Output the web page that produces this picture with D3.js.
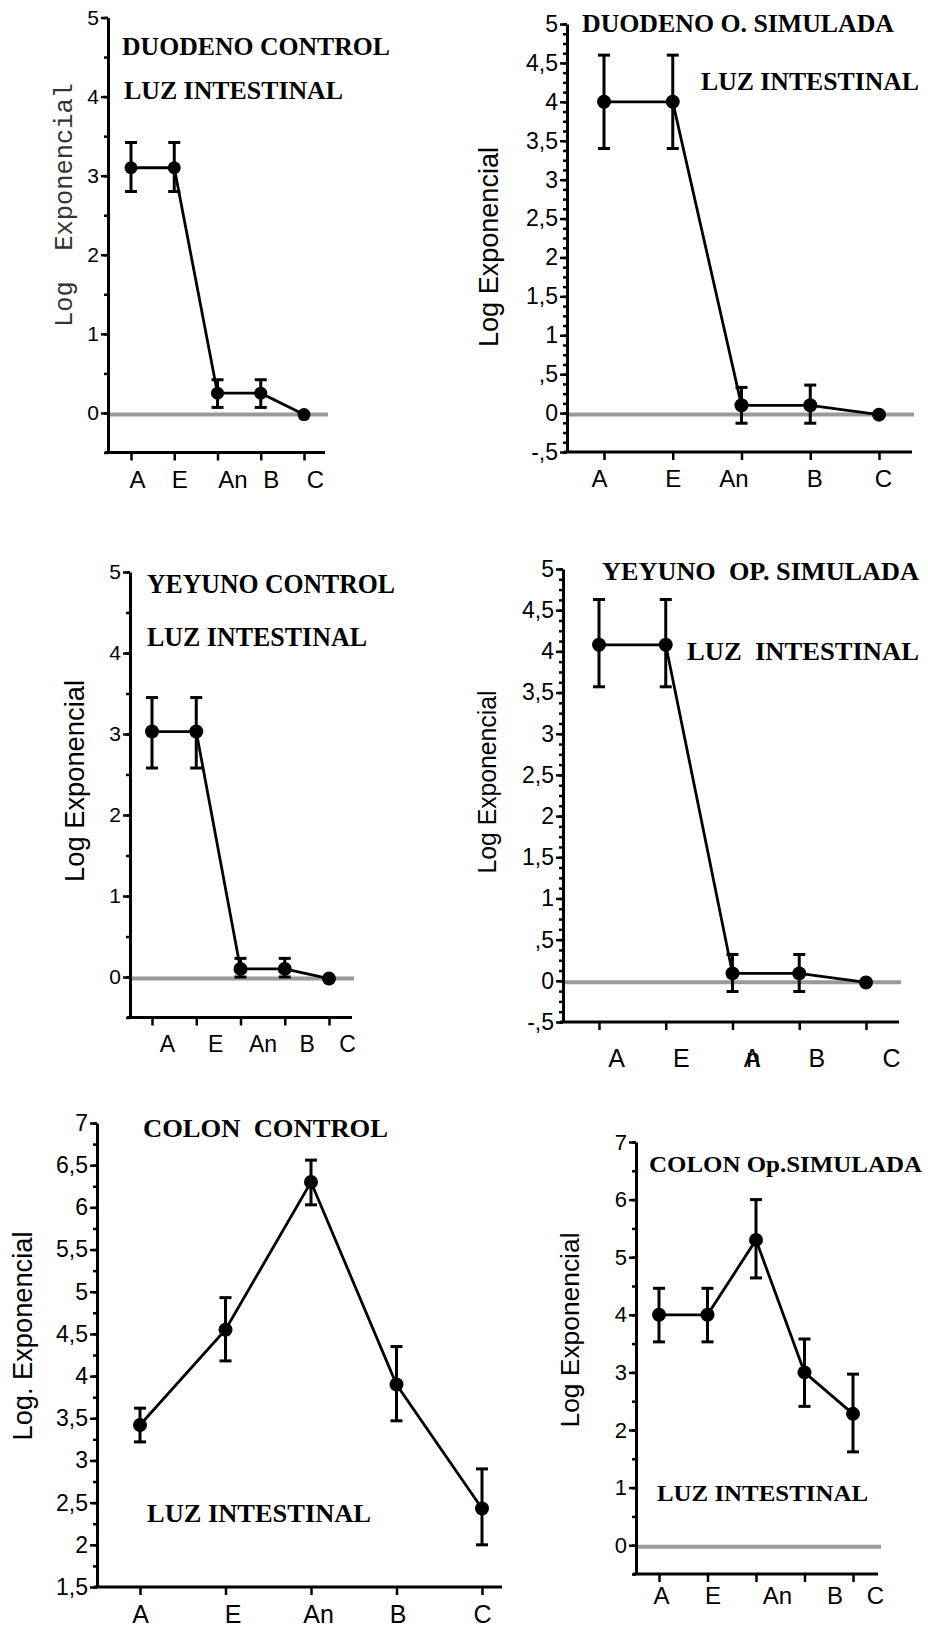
<!DOCTYPE html>
<html lang="es">
<head>
<meta charset="UTF-8">
<title>Luz intestinal</title>
<style>
  body { margin: 0; background: #fff; }
  svg { display: block; }
  .tick text { font-family: "Liberation Sans", Arial, sans-serif; fill: #000; }
</style>
</head>
<body>
<svg width="928" height="1628"></svg>
<script src="https://cdn.jsdelivr.net/npm/d3@7/dist/d3.min.js"></script>
<script>
  var categories = ['A', 'E', 'An', 'B', 'C'];

  // medias y extremos de las barras de error
  var duoCtrlMean = [3.1, 3.1, 0.25, 0.25, -0.02];
  var duoCtrlHigh = [3.42, 3.42, 0.42, 0.42, null];
  var duoCtrlLow  = [2.8, 2.8, 0.07, 0.07, null];

  var duoSimMean = [4.0, 4.0, 0.1, 0.1, -0.02];
  var duoSimHigh = [4.6, 4.6, 0.33, 0.36, null];
  var duoSimLow  = [3.4, 3.4, -0.13, -0.13, null];

  var yeyCtrlMean = [3.03, 3.03, 0.1, 0.1, -0.02];
  var yeyCtrlHigh = [3.45, 3.45, 0.23, 0.23, null];
  var yeyCtrlLow  = [2.58, 2.58, 0.0, 0.0, null];

  var yeySimMean = [4.08, 4.08, 0.09, 0.09, -0.02];
  var yeySimHigh = [4.63, 4.63, 0.32, 0.32, null];
  var yeySimLow  = [3.57, 3.57, -0.13, -0.13, null];

  var colCtrlMean = [3.42, 4.55, 6.3, 3.9, 2.43];
  var colCtrlHigh = [3.62, 4.93, 6.56, 4.35, 2.9];
  var colCtrlLow  = [3.22, 4.18, 6.03, 3.47, 2.0];

  var colSimMean = [4.0, 4.0, 5.3, 3.0, 2.28];
  var colSimHigh = [4.46, 4.46, 6.0, 3.58, 2.97];
  var colSimLow  = [3.53, 3.53, 4.64, 2.41, 1.62];

  // marcas del eje y
  var ticksInt5 = [0, 1, 2, 3, 4, 5];
  var ticksHalf5 = [-0.5, 0, 0.5, 1, 1.5, 2, 2.5, 3, 3.5, 4, 4.5, 5];
  var ticksColon = [1.5, 2, 2.5, 3, 3.5, 4, 4.5, 5, 5.5, 6, 6.5, 7];
  var ticksInt7 = [0, 1, 2, 3, 4, 5, 6, 7];

  var panels = [
    {mean: duoCtrlMean, high: duoCtrlHigh, low: duoCtrlLow, ticks: ticksInt5, minor: 0.5, domain: [-0.5, 5],
     ax: 108, yr: [452.5, 17.5], xr: [131, 304], xLine: [105, 325], zeroTo: 328, labelY: 488,
     shift: [6, 5, 15, 10, 11], tickFont: 21, labelFont: 24, r: 6.5,
     yLabel: {text: 'Log  Exponencial', x: 65, y: 205, len: 244, size: 26, mono: true},
     titles: [{text: 'DUODENO CONTROL', x: 122, y: 55, len: 268, size: 26},
              {text: 'LUZ INTESTINAL', x: 124, y: 99, len: 219, size: 26}]},
    {mean: duoSimMean, high: duoSimHigh, low: duoSimLow, ticks: ticksHalf5, minor: 0.125, domain: [-0.5, 5],
     ax: 567, yr: [452, 24], xr: [604, 879], xLine: [564, 912], zeroTo: 914, labelY: 487,
     shift: [-5, 0, -8, 4, 4], tickFont: 23, labelFont: 24, r: 7,
     yLabel: {text: 'Log Exponencial', x: 489, y: 247, len: 200, size: 27},
     titles: [{text: 'DUODENO O. SIMULADA', x: 582, y: 32, len: 312, size: 25},
              {text: 'LUZ INTESTINAL', x: 701, y: 90, len: 218, size: 25}]},
    {mean: yeyCtrlMean, high: yeyCtrlHigh, low: yeyCtrlLow, ticks: ticksInt5, minor: 0.5, domain: [-0.5, 5],
     ax: 130, yr: [1017.5, 572], xr: [152, 329], xLine: [127, 352], zeroTo: 354, labelY: 1052,
     shift: [15, 19, 22, 22, 18], tickFont: 21, labelFont: 23, r: 7,
     yLabel: {text: 'Log Exponencial', x: 75, y: 781, len: 202, size: 27},
     titles: [{text: 'YEYUNO CONTROL', x: 147, y: 593, len: 248, size: 27},
              {text: 'LUZ INTESTINAL', x: 147, y: 646, len: 220, size: 27}]},
    {mean: yeySimMean, high: yeySimHigh, low: yeySimLow, ticks: ticksHalf5, minor: 0.125, domain: [-0.5, 5],
     ax: 563, yr: [1022, 569], xr: [599, 866], xLine: [560, 899], zeroTo: 901, labelY: 1067,
     shift: [17, 15, 19, 17, 25], tickFont: 23, labelFont: 25, r: 7, overlapAn: true,
     yLabel: {text: 'Log Exponencial', x: 487, y: 782, len: 183, size: 26},
     titles: [{text: 'YEYUNO  OP. SIMULADA', x: 602, y: 580, len: 317, size: 25},
              {text: 'LUZ  INTESTINAL', x: 687, y: 660, len: 232, size: 25}]},
    {mean: colCtrlMean, high: colCtrlHigh, low: colCtrlLow, ticks: ticksColon, minor: 0.25, domain: [1.5, 7],
     ax: 97, yr: [1587, 1123], xr: [140, 482], xLine: [94, 502], zeroTo: null, labelY: 1623,
     shift: [0, 7, 7, 1, 0], tickFont: 23, labelFont: 25, r: 7,
     yLabel: {text: 'Log. Exponencial', x: 23, y: 1336, len: 209, size: 27},
     titles: [{text: 'COLON  CONTROL', x: 143, y: 1137, len: 245, size: 25},
              {text: 'LUZ INTESTINAL', x: 147, y: 1522, len: 224, size: 25}]},
    {mean: colSimMean, high: colSimHigh, low: colSimLow, ticks: ticksInt7, minor: 0.5, domain: [-0.5, 7],
     ax: 636, yr: [1574, 1142], xr: [659, 853], xLine: [633, 878], zeroTo: 881, labelY: 1604,
     shift: [2, 5, 21, 30, 22], tickFont: 22, labelFont: 24, r: 7,
     yLabel: {text: 'Log Exponencial', x: 570, y: 1330, len: 195, size: 26},
     titles: [{text: 'COLON Op.SIMULADA', x: 649, y: 1172, len: 273, size: 23},
              {text: 'LUZ INTESTINAL', x: 657, y: 1501, len: 211, size: 23}]}
  ];

  // 0.5 -> ",5", -0.5 -> "-,5", 4.5 -> "4,5"
  function fmt(v) {
    return String(v).replace('.', ',').replace(/^0,/, ',').replace(/^-0,/, '-,');
  }

  var svg = d3.select('svg');

  panels.forEach(function (p) {
    var g = svg.append('g');
    var y = d3.scaleLinear().domain(p.domain).range(p.yr);
    var x = d3.scalePoint().domain(categories).range(p.xr);
    var yBottom = p.yr[0];

    // linea gris en cero
    if (p.zeroTo) {
      g.append('line')
        .attr('x1', p.ax).attr('x2', p.zeroTo)
        .attr('y1', y(0) + 1.5).attr('y2', y(0) + 1.5)
        .attr('stroke', '#9a9a9a').attr('stroke-width', 4);
    }

    // eje y: marcas menores y mayores
    var minorTicks = d3.range(p.domain[0], p.domain[1] + 1e-9, p.minor);
    g.append('g').attr('transform', 'translate(' + p.ax + ',0)')
      .call(d3.axisLeft(y).tickValues(minorTicks).tickSize(4).tickSizeOuter(0).tickFormat(''))
      .call(function (s) { s.selectAll('line').attr('stroke-width', 2.5); s.select('.domain').attr('stroke-width', 3); });
    g.append('g').attr('transform', 'translate(' + p.ax + ',0)')
      .call(d3.axisLeft(y).tickValues(p.ticks).tickSize(7).tickPadding(2).tickSizeOuter(0).tickFormat(fmt))
      .call(function (s) {
        s.select('.domain').remove();
        s.selectAll('line').attr('stroke-width', 2.5);
        s.selectAll('text').style('font-size', p.tickFont + 'px');
      });

    // eje x
    g.append('line')
      .attr('x1', p.xLine[0]).attr('x2', p.xLine[1])
      .attr('y1', yBottom).attr('y2', yBottom)
      .attr('stroke', '#000').attr('stroke-width', 3);
    var xa = g.append('g').attr('transform', 'translate(0,' + yBottom + ')')
      .call(d3.axisBottom(x).tickSize(8).tickSizeOuter(0));
    xa.select('.domain').remove();
    xa.selectAll('line').attr('stroke-width', 2.5);
    xa.selectAll('text')
      .style('font-size', p.labelFont + 'px')
      .attr('y', p.labelY - yBottom).attr('dy', 0)
      .attr('dx', function (d, i) { return p.shift[i]; });
    if (p.overlapAn) {
      xa.selectAll('text').filter(function (d) { return d === 'An'; })
        .text(null)
        .call(function (t) {
          t.append('tspan').text('A');
          t.append('tspan').attr('dx', -14).text('n');
        });
    }

    var pts = categories.map(function (c, i) {
      return {c: c, m: p.mean[i], hi: p.high[i], lo: p.low[i]};
    });

    // barras de error
    var eb = g.selectAll('.eb').data(pts.filter(function (d) { return d.hi !== null; }))
      .enter().append('g').attr('stroke', '#000').attr('stroke-width', 3);
    eb.append('line')
      .attr('x1', function (d) { return x(d.c); }).attr('x2', function (d) { return x(d.c); })
      .attr('y1', function (d) { return y(d.hi); }).attr('y2', function (d) { return y(d.lo); });
    eb.append('line')
      .attr('x1', function (d) { return x(d.c) - 6; }).attr('x2', function (d) { return x(d.c) + 6; })
      .attr('y1', function (d) { return y(d.hi); }).attr('y2', function (d) { return y(d.hi); });
    eb.append('line')
      .attr('x1', function (d) { return x(d.c) - 6; }).attr('x2', function (d) { return x(d.c) + 6; })
      .attr('y1', function (d) { return y(d.lo); }).attr('y2', function (d) { return y(d.lo); });

    // linea de medias
    var line = d3.line().x(function (d) { return x(d.c); }).y(function (d) { return y(d.m); });
    g.append('path').datum(pts)
      .attr('d', line).attr('fill', 'none')
      .attr('stroke', '#000').attr('stroke-width', 2.8);
    g.selectAll('circle').data(pts).enter().append('circle')
      .attr('cx', function (d) { return x(d.c); })
      .attr('cy', function (d) { return y(d.m); })
      .attr('r', p.r).attr('fill', '#000');

    // titulos
    p.titles.forEach(function (t) {
      g.append('text')
        .attr('x', t.x).attr('y', t.y)
        .attr('textLength', t.len).attr('lengthAdjust', 'spacingAndGlyphs')
        .style('font-family', '"Liberation Serif", "Times New Roman", serif')
        .style('font-weight', 'bold').style('font-size', t.size + 'px')
        .style('white-space', 'pre')
        .text(t.text);
    });

    // etiqueta del eje y
    var yl = p.yLabel;
    g.append('text')
      .attr('transform', 'translate(' + yl.x + ',' + yl.y + ') rotate(-90)')
      .attr('text-anchor', 'middle').attr('dominant-baseline', 'central')
      .attr('textLength', yl.len).attr('lengthAdjust', 'spacingAndGlyphs')
      .style('font-family', yl.mono ? '"Courier New", "Liberation Mono", monospace' : '"Liberation Sans", Arial, sans-serif')
      .style('font-size', yl.size + 'px')
      .style('white-space', 'pre')
      .attr('fill', yl.mono ? '#333' : '#000')
      .text(yl.text);
  });
</script>
</body>
</html>
